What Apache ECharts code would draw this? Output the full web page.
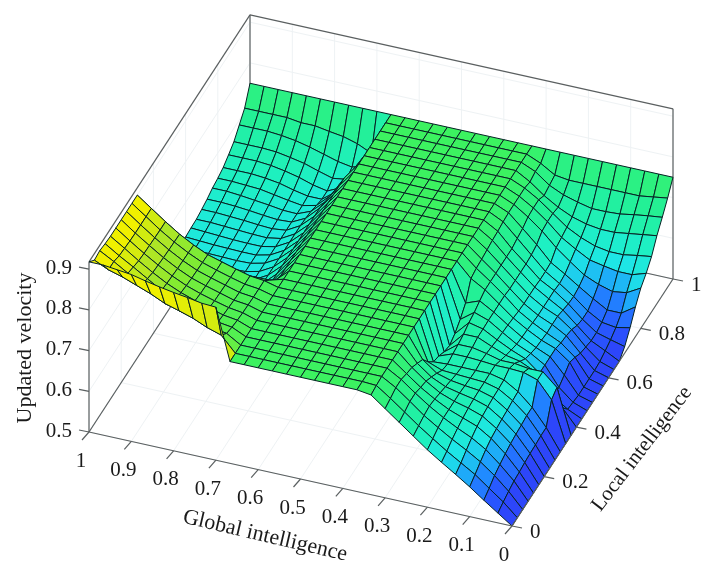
<!DOCTYPE html>
<html>
<head>
<meta charset="utf-8">
<title>Updated velocity surface</title>
<style>html,body{margin:0;background:#fff}#chart{width:714px;height:575px}</style>
<script src="https://cdn.jsdelivr.net/npm/echarts@6/dist/echarts.min.js"></script>
</head>
<body>
<div id="chart"></div>
<script>
const globalTicks = [1, 0.9, 0.8, 0.7, 0.6, 0.5, 0.4, 0.3, 0.2, 0.1, 0];
const localTicks = [0, 0.2, 0.4, 0.6, 0.8, 1];
const velocityTicks = [0.5, 0.6, 0.7, 0.8, 0.9];
const velocityTop = 0.918;
const meshSteps = 30;
// one row per local intelligence step (0 -> 1), columns are global intelligence 0 -> 1
const velocity = [
 [0.500,0.524,0.548,0.573,0.596,0.618,0.641,0.667,0.693,0.719,0.745,0.75,0.75,0.75,0.75,0.75,0.75,0.75,0.75,0.75,0.75,0.876,0.878,0.884,0.889,0.895,0.902,0.910,0.914,0.918,0.918],
 [0.500,0.531,0.557,0.583,0.604,0.625,0.648,0.672,0.698,0.724,0.748,0.75,0.75,0.75,0.75,0.75,0.75,0.75,0.75,0.75,0.75,0.787,0.798,0.813,0.824,0.834,0.850,0.863,0.876,0.886,0.902],
 [0.500,0.537,0.568,0.594,0.615,0.634,0.655,0.677,0.704,0.730,0.75,0.75,0.75,0.75,0.75,0.75,0.75,0.75,0.75,0.75,0.75,0.771,0.777,0.787,0.798,0.808,0.824,0.845,0.865,0.886,0.905],
 [0.500,0.542,0.575,0.604,0.625,0.641,0.659,0.680,0.704,0.730,0.75,0.75,0.75,0.75,0.75,0.75,0.75,0.75,0.75,0.75,0.75,0.766,0.771,0.782,0.792,0.803,0.818,0.839,0.860,0.880,0.902],
 [0.500,0.544,0.581,0.611,0.633,0.646,0.659,0.677,0.698,0.724,0.75,0.75,0.75,0.75,0.75,0.75,0.75,0.75,0.75,0.75,0.75,0.763,0.768,0.778,0.788,0.800,0.815,0.834,0.855,0.878,0.900],
 [0.500,0.547,0.586,0.615,0.638,0.650,0.659,0.672,0.693,0.719,0.75,0.75,0.75,0.75,0.75,0.75,0.75,0.75,0.75,0.75,0.75,0.761,0.766,0.775,0.785,0.797,0.813,0.832,0.853,0.876,0.900],
 [0.500,0.549,0.589,0.618,0.641,0.652,0.659,0.667,0.683,0.709,0.75,0.75,0.75,0.75,0.75,0.75,0.75,0.75,0.75,0.75,0.75,0.760,0.764,0.774,0.784,0.795,0.811,0.830,0.852,0.875,0.900],
 [0.500,0.550,0.591,0.620,0.643,0.653,0.657,0.662,0.672,0.698,0.75,0.75,0.75,0.75,0.75,0.75,0.75,0.75,0.75,0.75,0.75,0.759,0.763,0.773,0.783,0.794,0.810,0.829,0.851,0.875,0.900],
 [0.500,0.552,0.594,0.623,0.644,0.653,0.655,0.657,0.659,0.672,0.75,0.75,0.75,0.75,0.75,0.75,0.75,0.75,0.75,0.75,0.75,0.759,0.763,0.772,0.782,0.793,0.809,0.828,0.850,0.875,0.900],
 [0.500,0.552,0.594,0.625,0.646,0.654,0.654,0.654,0.654,0.652,0.75,0.75,0.75,0.75,0.75,0.75,0.75,0.75,0.75,0.75,0.75,0.759,0.763,0.772,0.782,0.792,0.808,0.827,0.850,0.875,0.900],
 [0.500,0.600,0.641,0.652,0.654,0.654,0.657,0.659,0.659,0.646,0.75,0.75,0.75,0.75,0.75,0.75,0.75,0.75,0.75,0.75,0.75,0.740,0.740,0.735,0.730,0.735,0.745,0.761,0.782,0.803,0.824],
 [0.500,0.610,0.641,0.641,0.646,0.646,0.655,0.662,0.662,0.636,0.75,0.75,0.75,0.75,0.75,0.75,0.75,0.75,0.75,0.75,0.75,0.719,0.698,0.683,0.672,0.672,0.677,0.688,0.698,0.709,0.719],
 [0.500,0.540,0.590,0.615,0.631,0.638,0.652,0.667,0.667,0.631,0.75,0.75,0.75,0.75,0.75,0.75,0.75,0.75,0.75,0.75,0.75,0.709,0.672,0.646,0.634,0.634,0.636,0.638,0.640,0.636,0.636],
 [0.500,0.516,0.540,0.589,0.617,0.631,0.648,0.667,0.675,0.640,0.75,0.75,0.75,0.75,0.75,0.75,0.75,0.75,0.75,0.75,0.75,0.709,0.667,0.638,0.620,0.615,0.615,0.615,0.615,0.615,0.615],
 [0.500,0.513,0.542,0.589,0.610,0.625,0.646,0.668,0.680,0.655,0.75,0.75,0.75,0.75,0.75,0.75,0.75,0.75,0.75,0.75,0.75,0.709,0.667,0.636,0.617,0.610,0.609,0.609,0.609,0.609,0.610],
 [0.500,0.510,0.552,0.589,0.604,0.622,0.644,0.668,0.688,0.675,0.75,0.75,0.75,0.75,0.75,0.75,0.75,0.75,0.75,0.75,0.75,0.709,0.667,0.636,0.617,0.609,0.608,0.608,0.608,0.609,0.610],
 [0.500,0.510,0.563,0.589,0.602,0.620,0.641,0.668,0.695,0.715,0.75,0.75,0.75,0.75,0.75,0.75,0.75,0.75,0.75,0.75,0.75,0.709,0.667,0.636,0.617,0.609,0.608,0.608,0.609,0.610,0.611],
 [0.500,0.510,0.555,0.583,0.599,0.617,0.638,0.668,0.695,0.720,0.75,0.75,0.75,0.75,0.75,0.75,0.75,0.75,0.75,0.75,0.75,0.709,0.667,0.636,0.617,0.609,0.608,0.609,0.610,0.611,0.613],
 [0.500,0.510,0.545,0.580,0.600,0.615,0.636,0.665,0.695,0.722,0.75,0.75,0.75,0.75,0.75,0.75,0.75,0.75,0.75,0.75,0.75,0.709,0.667,0.636,0.617,0.609,0.609,0.610,0.611,0.613,0.615],
 [0.500,0.512,0.540,0.575,0.600,0.615,0.636,0.665,0.695,0.725,0.75,0.75,0.75,0.75,0.75,0.75,0.75,0.75,0.75,0.75,0.75,0.709,0.667,0.636,0.617,0.610,0.610,0.611,0.613,0.615,0.617],
 [0.500,0.518,0.535,0.565,0.595,0.615,0.636,0.665,0.695,0.728,0.75,0.75,0.75,0.75,0.75,0.75,0.75,0.75,0.75,0.75,0.75,0.709,0.667,0.636,0.617,0.611,0.612,0.614,0.616,0.618,0.618],
 [0.516,0.525,0.535,0.560,0.590,0.615,0.634,0.665,0.695,0.730,0.75,0.75,0.75,0.75,0.75,0.75,0.75,0.75,0.75,0.75,0.75,0.709,0.667,0.636,0.617,0.613,0.615,0.618,0.620,0.622,0.622],
 [0.542,0.535,0.540,0.560,0.588,0.612,0.634,0.667,0.700,0.733,0.75,0.75,0.75,0.75,0.75,0.75,0.75,0.75,0.75,0.75,0.75,0.709,0.667,0.634,0.617,0.615,0.618,0.622,0.625,0.627,0.627],
 [0.573,0.550,0.550,0.570,0.592,0.615,0.636,0.672,0.704,0.735,0.75,0.75,0.75,0.75,0.75,0.75,0.75,0.75,0.75,0.75,0.75,0.709,0.662,0.631,0.617,0.618,0.623,0.627,0.631,0.634,0.634],
 [0.599,0.580,0.575,0.585,0.600,0.625,0.652,0.685,0.712,0.735,0.75,0.75,0.75,0.75,0.75,0.75,0.75,0.75,0.75,0.75,0.75,0.709,0.657,0.625,0.617,0.622,0.628,0.634,0.636,0.638,0.638],
 [0.615,0.604,0.604,0.610,0.617,0.636,0.657,0.688,0.714,0.735,0.75,0.75,0.75,0.75,0.75,0.75,0.75,0.75,0.75,0.75,0.75,0.698,0.646,0.620,0.620,0.627,0.636,0.641,0.644,0.644,0.644],
 [0.636,0.631,0.625,0.625,0.631,0.644,0.662,0.688,0.714,0.735,0.75,0.75,0.75,0.75,0.75,0.75,0.75,0.75,0.75,0.75,0.75,0.683,0.636,0.620,0.627,0.638,0.646,0.652,0.655,0.655,0.655],
 [0.667,0.662,0.657,0.652,0.652,0.657,0.667,0.683,0.704,0.730,0.75,0.75,0.75,0.75,0.75,0.75,0.75,0.75,0.75,0.75,0.75,0.667,0.636,0.631,0.641,0.652,0.659,0.665,0.667,0.667,0.667],
 [0.692,0.688,0.683,0.677,0.675,0.675,0.683,0.693,0.709,0.735,0.75,0.75,0.75,0.75,0.75,0.75,0.75,0.75,0.75,0.75,0.75,0.657,0.646,0.652,0.662,0.672,0.680,0.685,0.688,0.688,0.688],
 [0.719,0.714,0.709,0.709,0.709,0.709,0.709,0.709,0.714,0.735,0.75,0.75,0.75,0.75,0.75,0.75,0.75,0.75,0.75,0.75,0.75,0.667,0.683,0.693,0.698,0.704,0.704,0.709,0.709,0.709,0.709],
 [0.75,0.75,0.75,0.75,0.75,0.75,0.75,0.75,0.75,0.75,0.75,0.75,0.75,0.75,0.75,0.75,0.75,0.75,0.75,0.75,0.75,0.75,0.75,0.75,0.75,0.75,0.75,0.75,0.75,0.75,0.75]
];
// colour ramp: velocity -> colour
const rampValues = [0.5, 0.531, 0.563, 0.604, 0.636, 0.688, 0.75, 0.813, 0.85, 0.876, 0.9];
const rampColors = ['#2d46fa', '#285aff', '#1e96ff', '#1ee6e6', '#1ef0c3', '#23f096', '#3cf260', '#82eb32', '#aae628', '#d2eb10', '#f0f000'];
// cells right of this column take the colour of their low-global corner, the others of their high-global corner
const plateauColumn = 11;

// oblique view of the box, in page units of the hidden axes
const origin = [512, 526];
const globalStep = [-423, -94];
const localStep = [161, -247];
const velocityPx = 407;

function project(g, l, v) {
    return [
        origin[0] + g * globalStep[0] + l * localStep[0],
        origin[1] + g * globalStep[1] + l * localStep[1] - (v - 0.5) * velocityPx
    ];
}
function colorOf(v) {
    let k = 0;
    while (k < rampValues.length - 2 && v > rampValues[k + 1]) k++;
    let t = (v - rampValues[k]) / (rampValues[k + 1] - rampValues[k]);
    t = Math.max(0, Math.min(1, t));
    return echarts.color.lerp(t, [rampColors[k], rampColors[k + 1]]);
}

// far cells first so the near ones paint over them
let cells = [];
for (let j = meshSteps - 1; j >= 0; j--) {
    for (let i = meshSteps - 1; i >= 0; i--) {
        cells.push([i, j]);
    }
}

const gridColor = '#eef2f4';
const edgeColor = '#5a5f60';
let wallLines = [];
let boxLines = [];
globalTicks.forEach(g => {
    wallLines.push([g, 1, 0.5, g, 1, velocityTop]);
    wallLines.push([g, 0, 0.5, g, 1, 0.5]);
});
localTicks.forEach(l => {
    wallLines.push([1, l, 0.5, 1, l, velocityTop]);
    wallLines.push([0, l, 0.5, 1, l, 0.5]);
});
velocityTicks.forEach(v => {
    wallLines.push([0, 1, v, 1, 1, v]);
    wallLines.push([1, 0, v, 1, 1, v]);
});
boxLines.push([1, 0, 0.5, 1, 1, 0.5]);
boxLines.push([0, 1, 0.5, 1, 1, 0.5]);
boxLines.push([1, 0, 0.5, 1, 0, velocityTop]);
boxLines.push([0, 1, 0.5, 0, 1, velocityTop]);
boxLines.push([1, 1, 0.5, 1, 1, velocityTop]);
boxLines.push([1, 0, velocityTop, 1, 1, velocityTop]);
boxLines.push([0, 1, velocityTop, 1, 1, velocityTop]);
let frontLines = [
    [1, 0, 0.5, 0, 0, 0.5],
    [0, 0, 0.5, 0, 1, 0.5]
];

function segmentSeries(name, data, color, width, z) {
    return {
        type: 'custom',
        name: name,
        coordinateSystem: 'cartesian2d',
        clip: false,
        silent: true,
        z: z,
        data: data,
        renderItem: (params, api) => {
            const a = api.coord(project(api.value(0), api.value(1), api.value(2)));
            const b = api.coord(project(api.value(3), api.value(4), api.value(5)));
            return {
                type: 'line',
                shape: { x1: a[0], y1: a[1], x2: b[0], y2: b[1] },
                style: { stroke: color, lineWidth: width, fill: null }
            };
        }
    };
}

// axis tick: [g, l, v, label], the label sits at a page offset from the tick
function tickSeries(name, data, tick, label, align) {
    return {
        type: 'custom',
        name: name,
        coordinateSystem: 'cartesian2d',
        clip: false,
        silent: true,
        z: 6,
        data: data,
        renderItem: (params, api) => {
            const a = api.coord(project(api.value(0), api.value(1), api.value(2)));
            return {
                type: 'group',
                children: [
                    {
                        type: 'line',
                        shape: { x1: a[0], y1: a[1], x2: a[0] + tick[0], y2: a[1] + tick[1] },
                        style: { stroke: edgeColor, lineWidth: 1.2, fill: null }
                    },
                    {
                        type: 'text',
                        x: a[0] + label[0],
                        y: a[1] + label[1],
                        style: {
                            text: String(api.value(3)),
                            fill: '#1a1a1a',
                            font: '21px "Liberation Serif"',
                            align: align,
                            verticalAlign: 'middle'
                        }
                    }
                ]
            };
        }
    };
}

function titleText(text, x, y, degrees, size) {
    return {
        type: 'text',
        x: x,
        y: y,
        rotation: degrees * Math.PI / 180,
        style: {
            text: text,
            fill: '#1a1a1a',
            font: size + 'px "Liberation Serif"',
            align: 'center',
            verticalAlign: 'middle'
        }
    };
}

const chart = echarts.init(document.getElementById('chart'));
chart.setOption({
    animation: false,
    backgroundColor: '#fff',
    grid: { left: 0, right: 0, top: 0, bottom: 0 },
    xAxis: { type: 'value', min: 0, max: 714, show: false },
    yAxis: { type: 'value', min: 0, max: 575, inverse: true, show: false },
    graphic: {
        elements: [
            titleText('Updated velocity', 25, 348, 90, 22),
            titleText('Global intelligence', 265, 536, -13.2, 22),
            titleText('Local intelligence', 642, 449, 52.6, 21)
        ]
    },
    series: [
        segmentSeries('walls', wallLines, gridColor, 1, 1),
        segmentSeries('box', boxLines, edgeColor, 1.2, 2),
        {
            type: 'custom',
            name: 'Updated velocity',
            coordinateSystem: 'cartesian2d',
            clip: false,
            silent: true,
            z: 3,
            data: cells,
            renderItem: (params, api) => {
                const i = api.value(0);
                const j = api.value(1);
                const corner = (a, b) => api.coord(project(a / meshSteps, b / meshSteps, velocity[b][a]));
                return {
                    type: 'polygon',
                    shape: { points: [corner(i, j), corner(i + 1, j), corner(i + 1, j + 1), corner(i, j + 1)] },
                    style: {
                        fill: colorOf(velocity[j][i < plateauColumn ? i : i + 1]),
                        stroke: '#062224',
                        lineWidth: 1,
                        lineJoin: 'round'
                    }
                };
            }
        },
        segmentSeries('front', frontLines, edgeColor, 1.2, 4),
        tickSeries('global ticks', globalTicks.map(g => [g, 0, 0.5, g]), [-7, 8], [-8, 29], 'center'),
        tickSeries('local ticks', localTicks.map(l => [0, l, 0.5, l]), [10, 2], [18, 6], 'left'),
        tickSeries('velocity ticks', velocityTicks.map(v => [1, 0, v, v]), [-10, -2], [-17, -1], 'right')
    ]
});
</script>
</body>
</html>
